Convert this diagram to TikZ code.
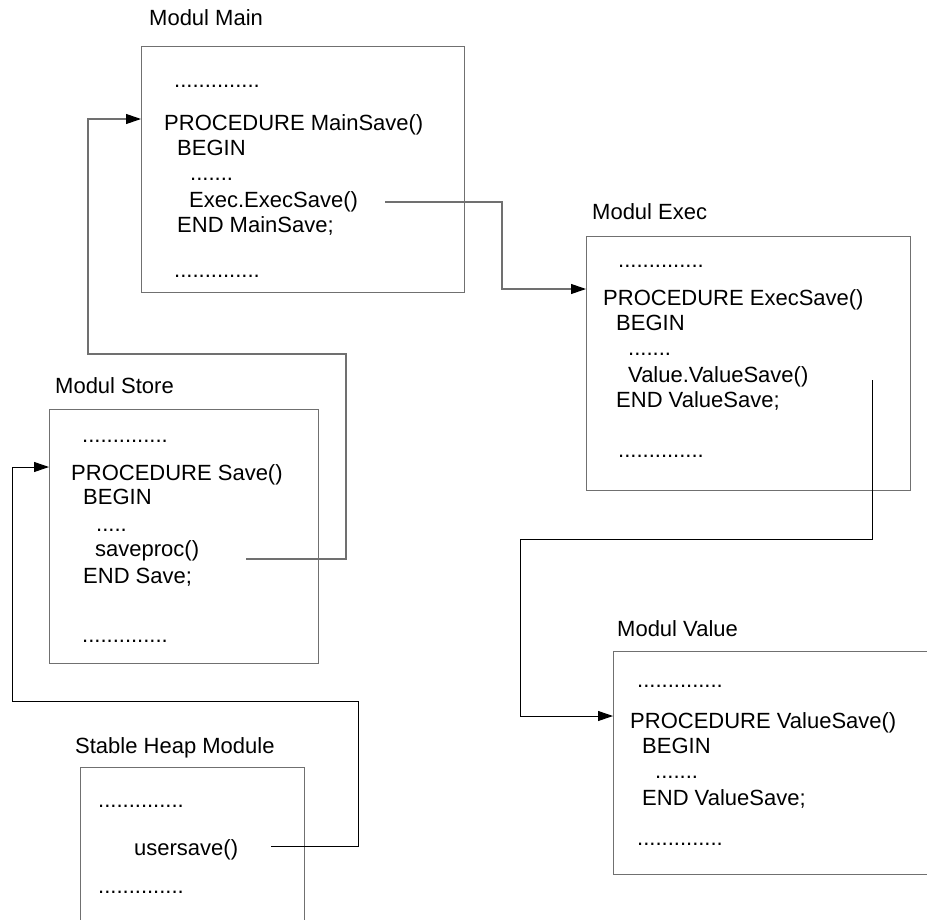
\documentclass[tikz,border=0pt]{standalone}
\usepackage{fontspec}
\setmainfont{Liberation Sans}
\usetikzlibrary{arrows.meta}
\definecolor{edgegray}{HTML}{707070}
\tikzset{
  modbox/.style={draw=edgegray, line width=1.3pt, inner sep=0pt, anchor=north west},
  code/.style={anchor=base west, inner sep=0pt, font=\fontsize{22}{25}\selectfont},
  graylink/.style={draw=edgegray, line width=1.1pt, -{Triangle[length=15pt,width=10pt,color=black]}},
  blacklink/.style={draw=black, line width=1pt, -{Triangle[length=15pt,width=10pt]}}
}
\begin{document}
\begin{tikzpicture}[x=1pt,y=-1pt]
\useasboundingbox (0,0) rectangle (927,919);
\clip (0,0) rectangle (927,919);

% module frames
\node[modbox, minimum width=323pt, minimum height=246pt] (mainbox) at (141,46) {};
\node[modbox, minimum width=324pt, minimum height=254pt] (execbox) at (586,236) {};
\node[modbox, minimum width=269pt, minimum height=254pt] (storebox) at (49,409) {};
\node[modbox, minimum width=400pt, minimum height=223pt] (valuebox) at (613,651) {};
\node[modbox, minimum width=224pt, minimum height=220pt] (heapbox) at (80,767) {};

% Modul Main
\node[code] (mainlbl) at (149,25) {Modul Main};
\node[code] (main1) at (174,87) {..............};
\node[code] (main2) at (164,130) {PROCEDURE MainSave()};
\node[code] (main3) at (177,155) {BEGIN};
\node[code] (main4) at (190,180) {.......};
\node[code] (main5) at (189,207) {Exec.ExecSave()};
\node[code] (main6) at (177,232) {END MainSave;};
\node[code] (main7) at (174,277) {..............};

% Modul Exec
\node[code] (execlbl) at (592,219) {Modul Exec};
\node[code] (exec1) at (618,267) {..............};
\node[code] (exec2) at (603,305) {PROCEDURE ExecSave()};
\node[code] (exec3) at (616,330) {BEGIN};
\node[code] (exec4) at (628,355) {.......};
\node[code] (exec5) at (628,382) {Value.ValueSave()};
\node[code] (exec6) at (616,407) {END ValueSave;};
\node[code] (exec7) at (618,457) {..............};

% Modul Store
\node[code] (storelbl) at (55,393) {Modul Store};
\node[code] (store1) at (82,442) {..............};
\node[code] (store2) at (71,480) {PROCEDURE Save()};
\node[code] (store3) at (83,504) {BEGIN};
\node[code] (store4) at (96,531) {.....};
\node[code] (store5) at (95,556) {saveproc()};
\node[code] (store6) at (83,583) {END Save;};
\node[code] (store7) at (82,642) {..............};

% Modul Value
\node[code] (valuelbl) at (617,636) {Modul Value};
\node[code] (value1) at (637,687) {..............};
\node[code] (value2) at (630,728) {PROCEDURE ValueSave()};
\node[code] (value3) at (642,753) {BEGIN};
\node[code] (value4) at (655,778) {.......};
\node[code] (value5) at (642,805) {END ValueSave;};
\node[code] (value6) at (637,845) {..............};

% Stable Heap Module
\node[code] (heaplbl) at (75,753) {Stable Heap Module};
\node[code] (heap1) at (98,807) {..............};
\node[code] (heap2) at (134,855) {usersave()};
\node[code] (heap3) at (98,893) {..............};

% call sites
\coordinate (execcall) at (385,202);
\coordinate (valuecall) at (872,380);
\coordinate (savecall) at (246,559);
\coordinate (usercall) at (271,846);

% call links
\draw[graylink] (execcall) -- (502,202) -- (502,289) -- (execbox.west |- 0,289);
\draw[blacklink] (valuecall) -- (872,539) -- (520,539) -- (520,716) -- (valuebox.west |- 0,716);
\draw[graylink] (savecall) -- (346,559) -- (346,354) -- (88,354) -- (88,119) -- (mainbox.west |- 0,119);
\draw[blacklink] (usercall) -- (358,846) -- (358,701) -- (12,701) -- (12,467) -- (storebox.west |- 0,467);
\end{tikzpicture}
\end{document}
